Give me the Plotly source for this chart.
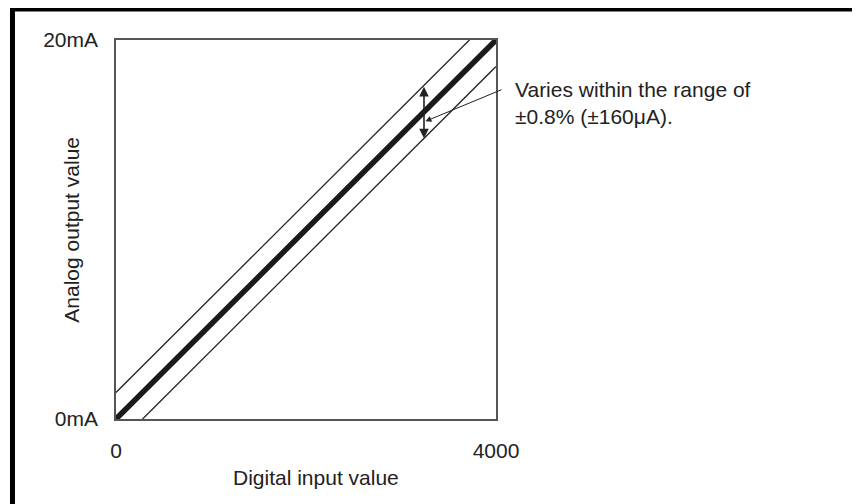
import plotly.graph_objects as go

# ---- data ----
digital_range = [0, 4000]          # digital input value
analog_range = [0, 20]             # analog output value (mA)
band_offset = 1.4                  # drawn tolerance band (exaggerated, mA)
x_tick_vals = [0, 4000]
x_tick_text = ["0", "4000"]
y_tick_vals = [0, 20]
y_tick_text = ["0mA", "20mA"]
arrow_x = 3242                     # digital value where the tolerance arrow is drawn
note_text = "Varies within the range of<br>±0.8% (±160μA)."

slope = (analog_range[1] - analog_range[0]) / (digital_range[1] - digital_range[0])
dx_off = band_offset / slope

FONT = "Liberation Sans, Arial, Helvetica, sans-serif"
TXT = "#222222"
FS = 21

fig = go.Figure()

# upper limit line
fig.add_trace(go.Scatter(
    x=[digital_range[0], digital_range[1] - dx_off],
    y=[analog_range[0] + band_offset, analog_range[1]],
    mode="lines", line=dict(color="#222222", width=1.3), hoverinfo="skip"))
# lower limit line
fig.add_trace(go.Scatter(
    x=[digital_range[0] + dx_off, digital_range[1]],
    y=[analog_range[0], analog_range[1] - band_offset],
    mode="lines", line=dict(color="#222222", width=1.3), hoverinfo="skip"))
# ideal characteristic
fig.add_trace(go.Scatter(
    x=digital_range, y=analog_range,
    mode="lines", line=dict(color="#1a1a1a", width=5.5), hoverinfo="skip"))

y_up = arrow_x * slope + band_offset
y_lo = arrow_x * slope - band_offset

annotations = [
    # vertical double arrow
    dict(x=arrow_x, y=y_lo, ax=arrow_x, ay=y_up, xref="x", yref="y", axref="x", ayref="y",
         showarrow=True, arrowhead=2, startarrowhead=2, arrowside="end+start",
         arrowsize=1.2, startarrowsize=1.2, arrowwidth=1.6, arrowcolor="#222222", text=""),
    # leader line
    dict(x=arrow_x + 15, y=arrow_x * slope - 0.5, ax=4074, ay=17.41, xref="x", yref="y",
         axref="x", ayref="y", showarrow=True, arrowhead=2, arrowsize=1.2, arrowwidth=1.0,
         arrowcolor="#222222", text=""),
    # note text
    dict(x=1.0447, y=0.8325, xref="paper", yref="paper", xanchor="left", yanchor="middle",
         align="left", text=note_text, showarrow=False,
         font=dict(family=FONT, size=FS, color=TXT)),
    # x title
    dict(x=0.5, y=-0.155, xref="paper", yref="paper", xanchor="center", yanchor="middle",
         text="Digital input value", showarrow=False, font=dict(family=FONT, size=FS, color=TXT),
         xshift=10),
    # y title
    dict(x=-0.118, y=0.5, xref="paper", yref="paper", xanchor="center", yanchor="middle",
         text="Analog output value", textangle=-90, showarrow=False,
         font=dict(family=FONT, size=FS, color=TXT)),
]

shapes = [
    # outer frame (top and left)
    dict(type="line", xref="paper", yref="paper", x0=-0.2724, x1=2.0, y0=1.0818, y1=1.0818,
         line=dict(color="black", width=5)),
    dict(type="line", xref="paper", yref="paper", x0=-0.2724, x1=-0.2724, y0=1.09, y1=-0.3,
         line=dict(color="black", width=5)),
]

fig.update_layout(
    width=852, height=496,
    margin=dict(l=108, r=364, t=32, b=85),
    paper_bgcolor="white", plot_bgcolor="white",
    showlegend=False,
    annotations=annotations, shapes=shapes,
    xaxis=dict(range=digital_range, tickvals=x_tick_vals, ticktext=x_tick_text,
               showgrid=False, zeroline=False, showline=True, mirror=True,
               linecolor="#555555", linewidth=1.5, ticks="", ticklabelstandoff=12,
               tickfont=dict(family=FONT, size=FS, color=TXT), fixedrange=True),
    yaxis=dict(range=analog_range, tickvals=y_tick_vals, ticktext=y_tick_text,
               showgrid=False, zeroline=False, showline=True, mirror=True,
               linecolor="#555555", linewidth=1.5, ticks="", ticklabelstandoff=12,
               tickfont=dict(family=FONT, size=FS, color=TXT), fixedrange=True),
)

fig.write_html("out.html")
